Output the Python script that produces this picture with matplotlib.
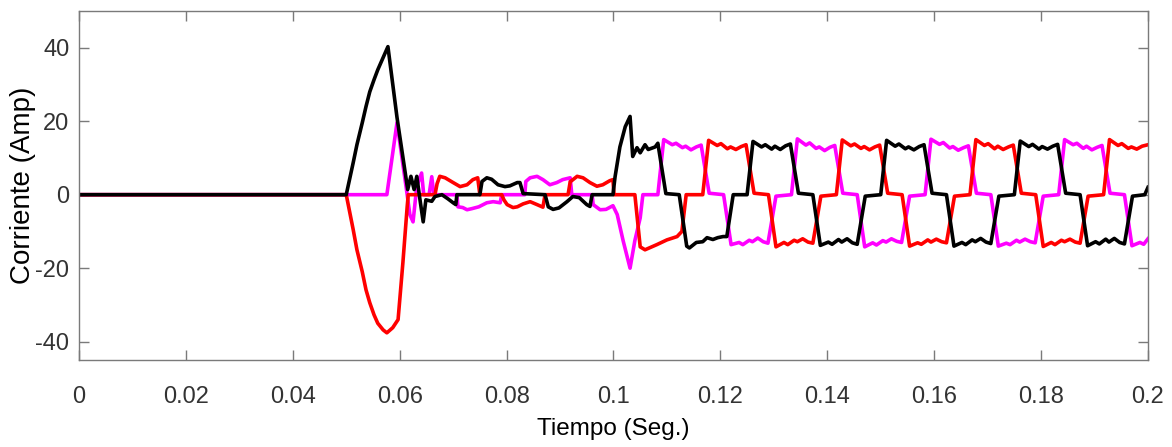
import matplotlib.pyplot as plt
import numpy as np

plt.rcParams['font.family'] = ['Liberation Sans', 'DejaVu Sans']
plt.rcParams['axes.unicode_minus'] = False

# corriente por fase: pares (tiempo [s], corriente [A])
negro = [
    (0.0, 0), (0.0500, 0), (0.0513, 8.7), (0.0520, 13.6), (0.0530, 19.6), (0.0537, 24.0),
    (0.0544, 28.0), (0.0552, 31.3), (0.0559, 34.0), (0.0569, 37.3),
    (0.0578, 40.3), (0.0595, 21.0), (0.0615, 1.4), (0.0621, 5.0), (0.0627, 1.4), (0.0632, 5.0),
    (0.0638, -1.4), (0.0644, -7.4), (0.0649, -1.4), (0.0660, -1.8), (0.0666, -0.5), (0.0679, 0.0),
    (0.0690, -1.1), (0.0700, -2.2), (0.0705, -2.7), (0.0707, 0), (0.0750, 0), (0.0754, 3.6),
    (0.0763, 4.6), (0.0772, 4.2), (0.0784, 2.7), (0.0797, 2.2), (0.0806, 2.4), (0.0820, 3.3),
    (0.0825, 3.3), (0.0831, 0.3), (0.0872, 0), (0.0878, -3.3), (0.0887, -4.0), (0.0898, -3.6),
    (0.0913, -1.9), (0.0924, -0.5), (0.0936, -0.8), (0.0950, -2.7), (0.0956, -3.2), (0.0960, 0),
    (0.0999, 0), (0.1003, 4.9), (0.1012, 13.0), (0.1022, 18.5), (0.1031, 21.3), (0.1036, 10.4),
    (0.1044, 12.8), (0.1050, 11.4), (0.1059, 13.6), (0.1065, 12.3), (0.1078, 13.0), (0.1083, 14.0),
    (0.1098, 0.3), (0.1123, 0), (0.1137, -14.0), (0.1142, -14.5), (0.1155, -13.0), (0.1167, -12.8),
    (0.1175, -11.7), (0.1186, -12.2), (0.1195, -11.7), (0.1205, -11.4), (0.1212, -11.4), (0.1224, 0),
    (0.1250, 0), (0.1261, 14.5), (0.1277, 13.0), (0.1284, 13.6), (0.1296, 12.4), (0.1302, 13.2),
    (0.1312, 12.3), (0.1322, 13.3), (0.1331, 13.8), (0.1346, 0.4), (0.1373, 0), (0.1387, -13.8),
    (0.1402, -12.9), (0.1409, -13.5), (0.1421, -12.2), (0.1427, -12.9), (0.1437, -12.0), (0.1447, -13.1),
    (0.1456, -13.5), (0.1471, -0.4), (0.1500, 0), (0.1511, 14.8), (0.1527, 13.2), (0.1534, 13.8),
    (0.1546, 12.5), (0.1552, 13.0), (0.1562, 12.2), (0.1572, 13.1), (0.1581, 13.6), (0.1596, 0.4),
    (0.1623, 0), (0.1637, -14.0), (0.1652, -13.0), (0.1659, -13.6), (0.1671, -12.3), (0.1677, -12.8),
    (0.1687, -11.9), (0.1697, -12.9), (0.1706, -13.3), (0.1721, -0.4), (0.1750, 0), (0.1761, 14.6),
    (0.1777, 13.1), (0.1784, 13.7), (0.1796, 12.4), (0.1802, 13.1), (0.1812, 12.4), (0.1822, 13.2),
    (0.1831, 13.7), (0.1846, 0.4), (0.1873, 0), (0.1887, -13.9), (0.1902, -12.8), (0.1909, -13.4),
    (0.1921, -12.1), (0.1927, -12.9), (0.1937, -11.9), (0.1947, -13.0), (0.1956, -13.4), (0.1971, -0.4),
    (0.1994, 0), (0.2000, 2.0),
]

magenta = [
    (0.0, 0), (0.0576, 0), (0.0595, 19.6), (0.0614, 0), (0.0619, -5.4), (0.0625, -7.4),
    (0.0632, 2.3), (0.0641, 5.9), (0.0645, 0), (0.0655, 0), (0.0660, 4.9), (0.0664, 0),
    (0.0707, 0), (0.0709, -3.3), (0.0718, -3.5), (0.0726, -4.1), (0.0735, -3.8), (0.0748, -3.3),
    (0.0763, -2.2), (0.0775, -1.9), (0.0788, -2.2), (0.0791, 0), (0.0834, 0), (0.0836, 3.6),
    (0.0844, 4.6), (0.0857, 5.0), (0.0868, 4.1), (0.0881, 2.7), (0.0894, 3.3), (0.0905, 4.1),
    (0.0919, 4.6), (0.0922, 0), (0.0960, 0), (0.0962, -2.7), (0.0975, -4.1), (0.0986, -4.0),
    (0.0999, -3.0), (0.1007, -5.4), (0.1018, -12.5), (0.1031, -20.0), (0.1040, -12.5), (0.1050, -6.3),
    (0.1055, 0), (0.1083, 0), (0.1094, 15.0), (0.1110, 13.6), (0.1117, 14.0), (0.1129, 12.8),
    (0.1135, 13.2), (0.1145, 12.2), (0.1155, 13.0), (0.1164, 13.5), (0.1179, 0.4), (0.1206, 0),
    (0.1220, -13.6), (0.1235, -13.0), (0.1242, -13.6), (0.1254, -12.4), (0.1260, -12.8), (0.1270, -11.8),
    (0.1280, -12.8), (0.1289, -13.2), (0.1304, -0.4), (0.1333, 0), (0.1344, 15.2), (0.1360, 13.5),
    (0.1367, 14.1), (0.1379, 12.6), (0.1385, 13.0), (0.1395, 12.0), (0.1405, 12.9), (0.1414, 13.4),
    (0.1429, 0.4), (0.1456, 0), (0.1470, -14.2), (0.1485, -13.1), (0.1492, -13.7), (0.1504, -12.5),
    (0.1510, -12.9), (0.1520, -12.0), (0.1530, -12.7), (0.1539, -13.0), (0.1554, -0.4), (0.1583, 0),
    (0.1594, 15.1), (0.1610, 13.7), (0.1617, 14.2), (0.1629, 12.7), (0.1635, 13.1), (0.1645, 12.1),
    (0.1655, 12.8), (0.1664, 13.3), (0.1679, 0.4), (0.1706, 0), (0.1720, -14.0), (0.1735, -13.2),
    (0.1742, -13.6), (0.1754, -12.4), (0.1760, -12.9), (0.1770, -12.1), (0.1780, -12.8), (0.1789, -13.1),
    (0.1804, -0.4), (0.1833, 0), (0.1844, 15.0), (0.1860, 13.6), (0.1867, 14.0), (0.1879, 12.6),
    (0.1885, 13.2), (0.1895, 12.2), (0.1905, 12.9), (0.1914, 13.4), (0.1929, 0.4), (0.1956, 0),
    (0.1970, -13.9), (0.1985, -13.0), (0.1992, -13.5), (0.2000, -12.0),
]

rojo = [
    (0.0, 0), (0.0500, 0), (0.0513, -9.5), (0.0520, -15.0), (0.0530, -21.0), (0.0537, -25.9),
    (0.0544, -29.4), (0.0552, -32.7), (0.0559, -35.0), (0.0569, -36.8),
    (0.0576, -37.6), (0.0587, -36.2), (0.0597, -34.0), (0.0606, -18.5), (0.0614, -3.3), (0.0616, 0),
    (0.0666, 0), (0.0670, 3.0), (0.0675, 5.0), (0.0685, 4.6), (0.0700, 3.3), (0.0713, 2.2),
    (0.0726, 2.7), (0.0737, 4.1), (0.0746, 4.6), (0.0750, 0), (0.0791, 0), (0.0795, -1.4),
    (0.0801, -2.7), (0.0812, -3.5), (0.0820, -3.3), (0.0831, -2.5), (0.0844, -1.9), (0.0857, -2.7),
    (0.0868, -3.4), (0.0872, 0), (0.0915, 0), (0.0919, 3.5), (0.0932, 5.0), (0.0943, 4.6),
    (0.0956, 3.3), (0.0969, 2.3), (0.0980, 2.7), (0.0993, 3.8), (0.0999, 4.1), (0.1001, 0),
    (0.1040, 0), (0.1050, -14.2), (0.1059, -15.0), (0.1081, -13.6), (0.1100, -12.3), (0.1119, -11.4),
    (0.1128, -10.0), (0.1136, 0), (0.1167, 0), (0.1178, 14.8), (0.1194, 13.4), (0.1201, 13.9),
    (0.1213, 12.5), (0.1219, 13.0), (0.1229, 12.3), (0.1239, 13.1), (0.1248, 13.6), (0.1263, 0.4),
    (0.1290, 0), (0.1304, -14.2), (0.1319, -13.0), (0.1326, -13.6), (0.1338, -12.4), (0.1344, -12.8),
    (0.1354, -12.0), (0.1364, -12.9), (0.1373, -13.2), (0.1388, -0.4), (0.1417, 0), (0.1428, 14.9),
    (0.1444, 13.3), (0.1451, 13.8), (0.1463, 12.6), (0.1469, 13.1), (0.1479, 12.2), (0.1489, 13.0),
    (0.1498, 13.5), (0.1513, 0.4), (0.1540, 0), (0.1554, -14.0), (0.1569, -13.1), (0.1576, -13.5),
    (0.1588, -12.3), (0.1594, -12.9), (0.1604, -12.1), (0.1614, -12.8), (0.1623, -13.1), (0.1638, -0.4),
    (0.1667, 0), (0.1678, 15.0), (0.1694, 13.4), (0.1701, 13.9), (0.1713, 12.5), (0.1719, 13.2),
    (0.1729, 12.3), (0.1739, 13.0), (0.1748, 13.5), (0.1763, 0.4), (0.1790, 0), (0.1804, -14.1),
    (0.1819, -13.0), (0.1826, -13.6), (0.1838, -12.4), (0.1844, -12.8), (0.1854, -12.1), (0.1864, -12.9),
    (0.1873, -13.2), (0.1888, -0.4), (0.1917, 0), (0.1928, 15.0), (0.1944, 13.4), (0.1951, 13.9),
    (0.1963, 12.6), (0.1969, 13.0), (0.1979, 12.4), (0.1989, 13.2), (0.2000, 13.6),
]

xticks = [0, 0.02, 0.04, 0.06, 0.08, 0.1, 0.12, 0.14, 0.16, 0.18, 0.2]
xlabels = ['0', '0.02', '0.04', '0.06', '0.08', '0.1', '0.12', '0.14', '0.16', '0.18', '0.2']
yticks = [-40, -20, 0, 20, 40]

fig = plt.figure(figsize=(11.72, 4.47), dpi=100)
ax = fig.add_axes([0.0674, 0.1946, 0.9121, 0.7808])

for datos, color in [(magenta, '#ff00ff'), (rojo, '#ff0000'), (negro, '#000000')]:
    d = np.array(datos)
    ax.plot(d[:, 0], d[:, 1], color=color, lw=2.6, solid_joinstyle='round')

ax.set_xlim(0, 0.2)
ax.set_ylim(-45, 50)
ax.set_xticks(xticks)
ax.set_xticklabels(xlabels)
ax.set_yticks(yticks)

gris = '#7a7a7a'
for s in ax.spines.values():
    s.set_color(gris)
    s.set_linewidth(1.0)
ax.tick_params(direction='in', length=7, width=1, color=gris, labelcolor='#333333',
               labelsize=17, top=True, right=True)
ax.tick_params(axis='x', pad=19)
ax.tick_params(axis='y', pad=7)

ax.set_xlabel('Tiempo (Seg.)', fontsize=17.5, labelpad=7)
ax.set_ylabel('Corriente (Amp)', fontsize=20)
ax.yaxis.set_label_coords(-0.04, 0.5)

fig.savefig('out.png', dpi=100)
